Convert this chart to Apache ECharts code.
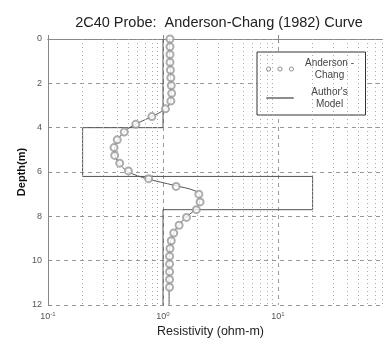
<!DOCTYPE html>
<html><head><meta charset="utf-8">
<script src="https://cdn.jsdelivr.net/npm/echarts@6/dist/echarts.min.js"></script>
<style>html,body{margin:0;padding:0;background:#fff}#c{width:383px;height:345px}</style>
</head><body><div id="c"></div>
<script>
// Anderson-Chang (1982) curve: depth (m) and apparent resistivity (ohm-m)
const dataDepth = [0,0.35,0.7,1.05,1.4,1.75,2.1,2.45,2.8,3.15,3.5,3.85,4.2,4.55,4.9,5.25,5.6,5.95,6.3,6.65,7.0,7.35,7.7,8.05,8.4,8.75,9.1,9.45,9.8,10.15,10.5,10.85,11.2];
const dataRes   = [1.15,1.15,1.15,1.15,1.16,1.17,1.18,1.19,1.17,1.05,0.8,0.58,0.46,0.4,0.375,0.38,0.42,0.5,0.75,1.3,2.05,2.1,1.95,1.6,1.38,1.24,1.18,1.15,1.14,1.14,1.14,1.14,1.14];
// Author's model curve
const modelDepth = [0,0.5,1,1.5,2,2.5,2.9,3.2,3.5,3.8,4.1,4.5,4.9,5.3,5.7,6.0,6.3,6.6,6.85,7.1,7.4,7.7,8.0,8.3,8.7,9.1,9.6,10.2,11,12];
const modelRes   = [1.14,1.14,1.15,1.16,1.17,1.18,1.15,1.02,0.8,0.6,0.48,0.41,0.38,0.385,0.43,0.5,0.72,1.25,1.9,2.1,2.08,1.9,1.62,1.42,1.25,1.17,1.14,1.13,1.13,1.13];
// Layered (true) model: depth boundaries and resistivities
const layerTops = [0,4,6.2,7.7];
const layerBottoms = [4,6.2,7.7,12];
const layerRes = [1,0.2,20,1];
// Axes
const xMin = 0.1, xMax = 100;
const yMin = 0, yMax = 12, yInterval = 2;
const minorGridX = [0.2,0.3,0.4,0.5,0.6,0.7,0.8,0.9,2,3,4,5,6,7,8,9,20,30,40,50,60,70,80,90];
const title = '2C40 Probe:  Anderson-Chang (1982) Curve';

const stepPts = [];
layerRes.forEach((r,i)=>{ stepPts.push([r,layerTops[i]]); stepPts.push([r,layerBottoms[i]]); });

const circleIcon = 'path://M1,3a2,2 0 1,0 4,0a2,2 0 1,0 -4,0M12,3a2,2 0 1,0 4,0a2,2 0 1,0 -4,0M23,3a2,2 0 1,0 4,0a2,2 0 1,0 -4,0';
const lineIcon = 'path://M0,0H28V0.6H0Z';

const chart = echarts.init(document.getElementById('c'));
chart.setOption({
  animation:false,
  backgroundColor:'#fff',
  title:{text:title,left:214,top:10,textAlign:'center',
    textStyle:{fontFamily:'Liberation Sans',fontSize:14.5,fontWeight:'normal',color:'#222'}},
  grid:{left:48,top:39,width:345,height:266,containLabel:false,outerBoundsMode:'none'},
  legend:{
    orient:'vertical',left:257,top:52,
    backgroundColor:'#fff',borderColor:'#333',borderWidth:1,
    padding:[5,5,5,9],itemGap:5,itemWidth:27,itemHeight:6,
    formatter:n=>n.split('\n').map(l=>'{c|'+l+'}').join('\n'),
    textStyle:{fontFamily:'Liberation Sans',fontSize:10,color:'#444',lineHeight:12,
      rich:{c:{width:62,align:'center',fontSize:10,color:'#444',lineHeight:12,fontFamily:'Liberation Sans'}}},
    data:[
      {name:'Anderson -\nChang',icon:circleIcon,itemStyle:{color:'#fff',borderColor:'#777',borderWidth:1}},
      {name:"Author's\nModel",icon:lineIcon,itemStyle:{color:'#555',borderColor:'#555',borderWidth:0.6}}
    ]
  },
  xAxis:[{type:'log',logBase:10,min:xMin,max:xMax,
    axisLine:{show:true,lineStyle:{color:'#888'}},
    axisTick:{show:true,inside:true,length:4,lineStyle:{color:'#888'}},
    splitLine:{show:true,lineStyle:{color:'#999',type:[4,4],width:1}},
    axisLabel:{color:'#555',margin:6,fontFamily:'Liberation Sans',fontSize:9,hideOverlap:false,showMaxLabel:true,showMinLabel:true,
      formatter:v=>{const e=Math.round(Math.log10(v));return '{b|10}{s|'+e+'}';},
      rich:{b:{fontSize:9,color:'#555',fontFamily:'Liberation Sans'},s:{fontSize:6,color:'#555',verticalAlign:'top',padding:[0,0,5,0],fontFamily:'Liberation Sans'}}},
    name:'Resistivity (ohm-m)',nameLocation:'middle',nameGap:20,nameMoveOverlap:false,
    nameTextStyle:{fontFamily:'Liberation Sans',fontSize:12.5,color:'#222',padding:[0,20,0,0]}
  },{type:'log',logBase:10,min:xMin,max:xMax,position:'top',
    axisLine:{show:true,lineStyle:{color:'#888'}},
    axisTick:{show:true,inside:true,length:4,lineStyle:{color:'#888'}},
    splitLine:{show:false},axisLabel:{show:false}}],
  yAxis:{type:'value',inverse:true,min:yMin,max:yMax,interval:yInterval,
    axisLine:{show:true,lineStyle:{color:'#888'}},
    axisTick:{show:true,inside:true,length:4,lineStyle:{color:'#888'}},
    splitLine:{show:true,lineStyle:{color:'#999',type:[4,4],width:1}},
    axisLabel:{color:'#555',fontFamily:'Liberation Sans',fontSize:9,margin:6},
    name:'Depth(m)',nameLocation:'middle',nameGap:21,nameMoveOverlap:false,
    nameTextStyle:{fontFamily:'Liberation Sans',fontSize:11,color:'#111',fontWeight:'bold'}
  },
  series:[
    {type:'line',name:'minorgrid',data:[],silent:true,
      markLine:{silent:true,symbol:['none','none'],label:{show:false},
        lineStyle:{color:'#aaa',type:[1,3],width:1},
        data:minorGridX.map(v=>({xAxis:v}))}},
    {type:'line',name:'layers',data:stepPts,showSymbol:false,symbol:'none',
      lineStyle:{color:'#555',width:1},z:3},
    {type:'line',name:"Author's\nModel",data:modelRes.map((r,i)=>[r,modelDepth[i]]),
      symbol:'none',showSymbol:false,smooth:0.3,lineStyle:{color:'#555',width:1},itemStyle:{color:'#555'},z:4},
    {type:'scatter',name:'Anderson -\nChang',data:dataRes.map((r,i)=>[r,dataDepth[i]]),
      symbol:'emptyCircle',symbolSize:7,itemStyle:{color:'#999',borderColor:'#999',borderWidth:1},z:5}
  ]
});
</script></body></html>
